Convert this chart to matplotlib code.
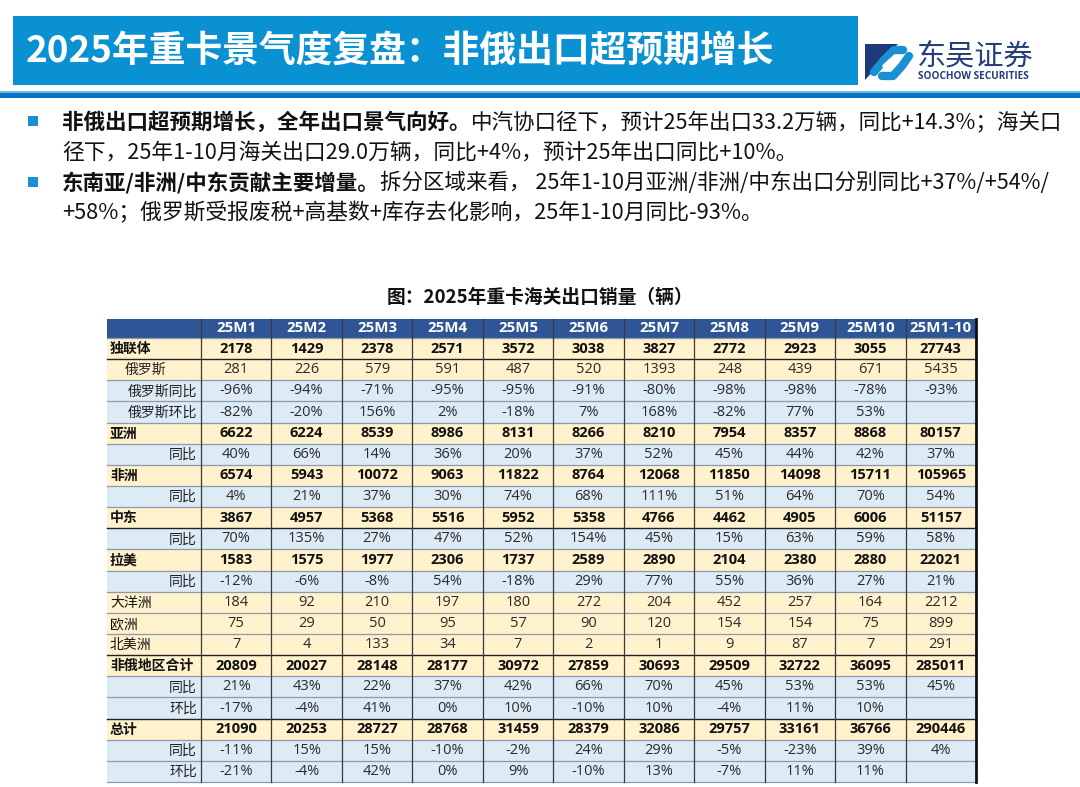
import matplotlib
matplotlib.use('Agg')
import matplotlib.pyplot as plt
from matplotlib.patches import Rectangle, Polygon

plt.rcParams['font.family'] = ['Noto Sans CJK SC', 'DejaVu Sans']
NUM_FONT = ['Open Sans', 'Noto Sans CJK SC']

# table data
months = ['25M1', '25M2', '25M3', '25M4', '25M5', '25M6', '25M7', '25M8', '25M9', '25M10', '25M1-10']
cis = [2178, 1429, 2378, 2571, 3572, 3038, 3827, 2772, 2923, 3055, 27743]
russia = [281, 226, 579, 591, 487, 520, 1393, 248, 439, 671, 5435]
russia_yoy = [-96, -94, -71, -95, -95, -91, -80, -98, -98, -78, -93]
russia_mom = [-82, -20, 156, 2, -18, 7, 168, -82, 77, 53, None]
asia = [6622, 6224, 8539, 8986, 8131, 8266, 8210, 7954, 8357, 8868, 80157]
asia_yoy = [40, 66, 14, 36, 20, 37, 52, 45, 44, 42, 37]
africa = [6574, 5943, 10072, 9063, 11822, 8764, 12068, 11850, 14098, 15711, 105965]
africa_yoy = [4, 21, 37, 30, 74, 68, 111, 51, 64, 70, 54]
mideast = [3867, 4957, 5368, 5516, 5952, 5358, 4766, 4462, 4905, 6006, 51157]
mideast_yoy = [70, 135, 27, 47, 52, 154, 45, 15, 63, 59, 58]
latam = [1583, 1575, 1977, 2306, 1737, 2589, 2890, 2104, 2380, 2880, 22021]
latam_yoy = [-12, -6, -8, 54, -18, 29, 77, 55, 36, 27, 21]
oceania = [184, 92, 210, 197, 180, 272, 204, 452, 257, 164, 2212]
europe = [75, 29, 50, 95, 57, 90, 120, 154, 154, 75, 899]
n_america = [7, 4, 133, 34, 7, 2, 1, 9, 87, 7, 291]
non_ru = [20809, 20027, 28148, 28177, 30972, 27859, 30693, 29509, 32722, 36095, 285011]
non_ru_yoy = [21, 43, 22, 37, 42, 66, 70, 45, 53, 53, 45]
non_ru_mom = [-17, -4, 41, 0, 10, -10, 10, -4, 11, 10, None]
total = [21090, 20253, 28727, 28768, 31459, 28379, 32086, 29757, 33161, 36766, 290446]
total_yoy = [-11, 15, 15, -10, -2, 24, 29, -5, -23, 39, 4]
total_mom = [-21, -4, 42, 0, 9, -10, 13, -7, 11, 11, None]

title = '2025年重卡景气度复盘：非俄出口超预期增长'
table_title = '图：2025年重卡海关出口销量（辆）'
bullets = [
    ('非俄出口超预期增长，全年出口景气向好。',
     '中汽协口径下，预计25年出口33.2万辆，同比+14.3%；海关口',
     '径下，25年1-10月海关出口29.0万辆，同比+4%，预计25年出口同比+10%。'),
    ('东南亚/非洲/中东贡献主要增量。',
     '拆分区域来看， 25年1-10月亚洲/非洲/中东出口分别同比+37%/+54%/',
     '+58%；俄罗斯受报废税+高基数+库存去化影响，25年1-10月同比-93%。'),
]

# label, values, is_pct, bold, label style
rows = [
    ('独联体', cis, False, True, 'left'),
    ('俄罗斯', russia, False, False, 'indent'),
    ('俄罗斯同比', russia_yoy, True, False, 'right'),
    ('俄罗斯环比', russia_mom, True, False, 'right'),
    ('亚洲', asia, False, True, 'left'),
    ('同比', asia_yoy, True, False, 'right'),
    ('非洲', africa, False, True, 'left'),
    ('同比', africa_yoy, True, False, 'right'),
    ('中东', mideast, False, True, 'left'),
    ('同比', mideast_yoy, True, False, 'right'),
    ('拉美', latam, False, True, 'left'),
    ('同比', latam_yoy, True, False, 'right'),
    ('大洋洲', oceania, False, False, 'left'),
    ('欧洲', europe, False, False, 'left'),
    ('北美洲', n_america, False, False, 'left'),
    ('非俄地区合计', non_ru, False, True, 'left'),
    ('同比', non_ru_yoy, True, False, 'right'),
    ('环比', non_ru_mom, True, False, 'right'),
    ('总计', total, False, True, 'left'),
    ('同比', total_yoy, True, False, 'right'),
    ('环比', total_mom, True, False, 'right'),
]

W, H = 1080, 787
fig = plt.figure(figsize=(W / 100, H / 100), dpi=100)
ax = fig.add_axes([0, 0, 1, 1])
ax.set_xlim(0, W)
ax.set_ylim(H, 0)
ax.axis('off')

# header bar
ax.add_patch(Rectangle((13, 16), 845, 69, color='#0a91d2', lw=0))
ax.text(26, 51, title, color='white', fontsize=26.5, fontweight='bold', va='center', ha='left')
ax.add_patch(Rectangle((0, 90.5), W, 2, color='#6cb8e6', lw=0))
ax.add_patch(Rectangle((0, 93), W, 5, color='#0873c2', lw=0))

# logo
ax.add_patch(Polygon([[865, 44], [898, 44], [865, 80]], closed=True, color='#1f3a7a', lw=0))
ax.plot([874, 884, 894, 903], [72, 60, 50, 50], color='#1a8fd4', lw=6, solid_capstyle='round')
ax.plot([882, 893, 902, 909], [76, 76, 66, 56], color='#1a8fd4', lw=6, solid_capstyle='round')
ax.plot([884, 895], [66, 56], color='white', lw=2.5, solid_capstyle='round')
ax.text(917, 56, '东吴证券', color='#243f7c', fontsize=21, va='center', ha='left')
ax.text(918, 76.5, 'SOOCHOW SECURITIES', color='#243f7c', fontsize=7.2, fontweight='bold',
        va='center', ha='left', family=NUM_FONT)

# bullets
fig.canvas.draw()
renderer = fig.canvas.get_renderer()
line_y = [122, 153, 183, 213]
bold_fs = 15.5
rest_fs = [(15.5, 15.7), (15.5, 15.7)]
for i, (bold_part, rest1, rest2) in enumerate(bullets):
    y1, y2 = line_y[2 * i], line_y[2 * i + 1]
    ax.add_patch(Rectangle((28, y1 - 6), 10, 10, color='#1a8fd4', lw=0))
    t = ax.text(62, y1, bold_part, fontsize=bold_fs, fontweight='bold', va='center', ha='left',
                color='#111111')
    bb = t.get_window_extent(renderer)
    ax.text(62 + bb.width, y1, rest1, fontsize=rest_fs[i][0], va='center', ha='left', color='#111111')
    ax.text(62, y2, rest2, fontsize=rest_fs[i][1], va='center', ha='left', color='#111111')

# table
ax.text(540, 297, table_title, fontsize=13.5, fontweight='bold', va='center', ha='center', color='#111111')
x0, x1, x_end = 107, 201, 976
col_w = (x_end - x1) / len(months)
y_head, head_h = 319, 19
row_h = (782 - (y_head + head_h)) / len(rows)
yellow, blue = '#fff2cc', '#ddebf7'

ax.add_patch(Rectangle((x0, y_head), x_end - x0, head_h, color='#2f5597', lw=0))
for j, m in enumerate(months):
    ax.text(x1 + col_w * (j + 0.5), y_head + head_h / 2, m, color='white', fontsize=10.8,
            fontweight='bold', va='center', ha='center', family=NUM_FONT)

for i, (label, vals, is_pct, bold, style) in enumerate(rows):
    top = y_head + head_h + i * row_h
    fill = blue if is_pct else yellow
    ax.add_patch(Rectangle((x0, top), x_end - x0, row_h, color=fill, lw=0))
    cy = top + row_h / 2 + 0.5
    w = 'bold' if bold else 'normal'
    if style == 'left':
        ax.text(x0 + 3, cy, label, fontsize=10, fontweight=w, va='center', ha='left', color='#111111')
    elif style == 'indent':
        ax.text(x0 + 18, cy, label, fontsize=10, fontweight=w, va='center', ha='left', color='#222222')
    else:
        ax.text(x1 - 4, cy, label, fontsize=10, fontweight=w, va='center', ha='right', color='#222222')
    for j, v in enumerate(vals):
        if v is None:
            continue
        s = f'{v}%' if is_pct else f'{v}'
        ax.text(x1 + col_w * (j + 0.5), cy - 0.5, s, fontsize=10.5, fontweight=w, va='center',
                ha='center', family=NUM_FONT, color='#111111' if bold else '#2a2a2a')

# grid lines
n = len(rows)
dark_rows = {1, 9, 15, 18}
for i in range(n + 1):
    yy = y_head + head_h + i * row_h
    if i in dark_rows:
        ax.plot([x0, x_end], [yy, yy], color='#222222', lw=1.0)
    else:
        ax.plot([x0, x_end], [yy, yy], color='#8d9aa8', lw=0.9)
for j in range(len(months) + 1):
    xx = x1 + j * col_w
    ax.plot([xx, xx], [y_head, 782], color='#3a3a3a', lw=0.9)
ax.plot([x_end, x_end], [y_head, 782], color='#111111', lw=2)

fig.savefig('out.png', dpi=100)
